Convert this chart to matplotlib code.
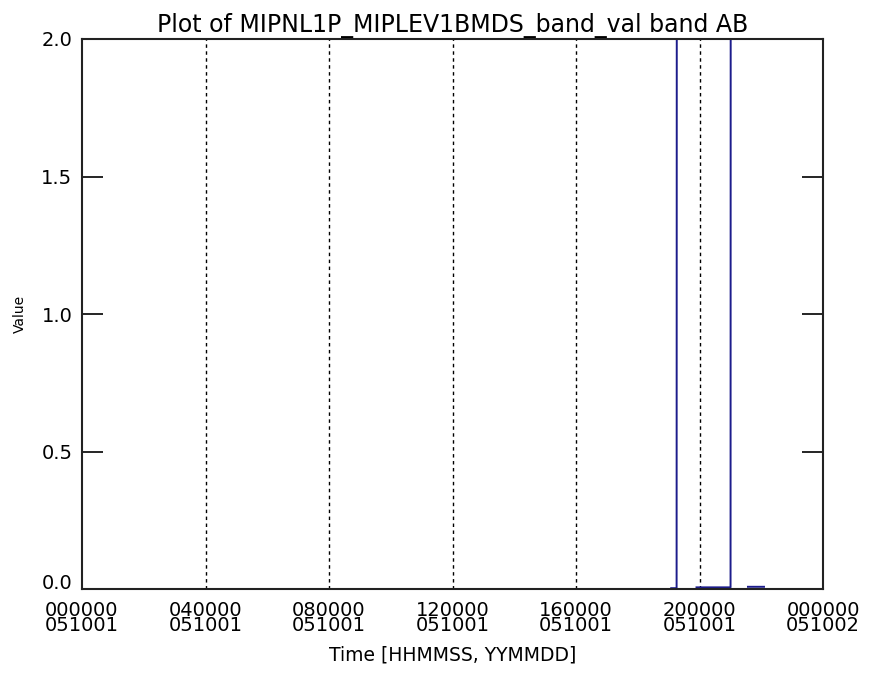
import numpy as np
import matplotlib
matplotlib.use('Agg')
from matplotlib import pyplot as plt

# time of day in seconds since 000000 051001, NaN breaks the line
t_sec = [68700, 69330, 69380, np.nan, 71650, 75620, 75660, np.nan, 77650, 79520]
band_val = [0.003, 0.003, 5.0, np.nan, 0.006, 0.006, 5.0, np.nan, 0.008, 0.008]

tick_sec = [0, 14400, 28800, 43200, 57600, 72000, 86400]
tick_labels = ['000000\n051001', '040000\n051001', '080000\n051001',
               '120000\n051001', '160000\n051001', '200000\n051001',
               '000000\n051002']
y_ticks = [0.0, 0.5, 1.0, 1.5, 2.0]

plt.rcParams['font.family'] = ['DejaVu Sans']

fig = plt.figure(figsize=(8.73, 6.75), dpi=100)
ax = fig.add_axes([82 / 873, 1 - 589 / 675, 741 / 873, 550 / 675])

# dotted grid at the inner ticks
for t in tick_sec[1:-1]:
    ax.axvline(t, color='black', linestyle=(0, (2.5, 2.5)), linewidth=1.0)

ax.plot(t_sec, band_val, color='#1c1c8c', linewidth=1.4)

ax.set_xlim(0, 86400)
ax.set_ylim(0, 2.0)
ax.set_xticks(tick_sec)
ax.set_xticklabels(tick_labels, fontsize=14, linespacing=0.72)
ax.set_yticks(y_ticks)
ylabs = ax.set_yticklabels([f'{v:.1f}' for v in y_ticks], fontsize=14)
ylabs[0].set_va('baseline')  # IDL puts the bottom label above the axis
ax.tick_params(axis='x', length=0, pad=9)
ax.tick_params(axis='y', direction='in', length=15, width=1.2,
               right=True, pad=7)

for s in ax.spines.values():
    s.set_linewidth(1.5)
    s.set_color('#222222')

ax.set_xlabel('Time [HHMMSS, YYMMDD]', fontsize=13.5, labelpad=7)
fig.text(20 / 873, 1 - 314 / 675, 'Value', rotation=90, fontsize=10,
         ha='center', va='center')
ax.set_title('Plot of MIPNL1P_MIPLEV1BMDS_band_val band AB', fontsize=17,
             pad=5)

fig.savefig('out.png', dpi=100)
